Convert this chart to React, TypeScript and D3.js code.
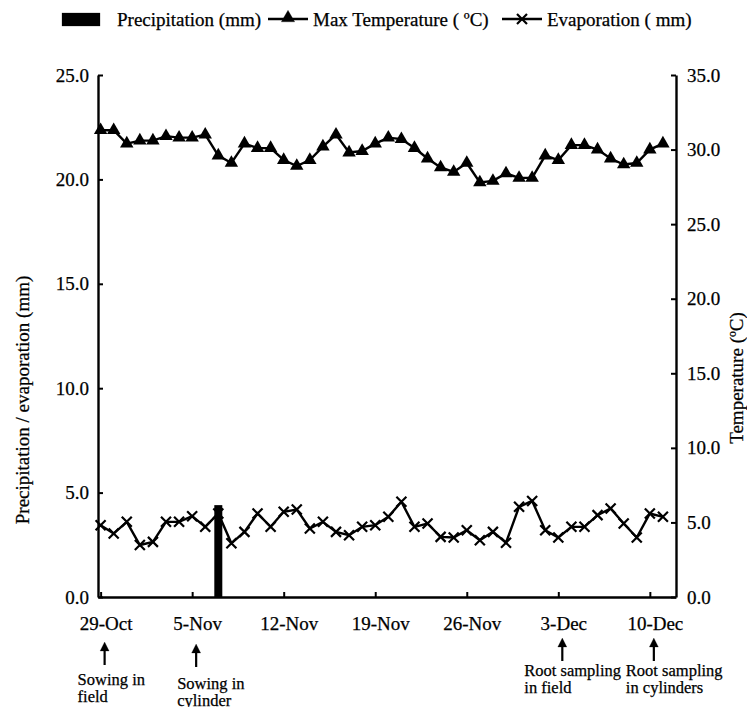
import React, { useEffect, useRef } from 'react';
import * as d3 from 'd3';

// daily categories, 29-Oct .. 11-Dec
const days = [
  '29-Oct', '30-Oct', '31-Oct', '1-Nov', '2-Nov', '3-Nov', '4-Nov', '5-Nov', '6-Nov', '7-Nov', '8-Nov',
  '9-Nov', '10-Nov', '11-Nov', '12-Nov', '13-Nov', '14-Nov', '15-Nov', '16-Nov', '17-Nov', '18-Nov', '19-Nov',
  '20-Nov', '21-Nov', '22-Nov', '23-Nov', '24-Nov', '25-Nov', '26-Nov', '27-Nov', '28-Nov', '29-Nov', '30-Nov',
  '1-Dec', '2-Dec', '3-Dec', '4-Dec', '5-Dec', '6-Dec', '7-Dec', '8-Dec', '9-Dec', '10-Dec', '11-Dec',
];
const tickDays = ['29-Oct', '5-Nov', '12-Nov', '19-Nov', '26-Nov', '3-Dec', '10-Dec'];

const maxTemp = [
  31.3, 31.3, 30.4, 30.6, 30.6, 30.9, 30.8, 30.8, 31.0, 29.6, 29.1,
  30.4, 30.1, 30.1, 29.3, 28.9, 29.3, 30.2, 31.0, 29.8, 29.9, 30.4,
  30.8, 30.7, 30.1, 29.4, 28.8, 28.5, 29.1, 27.8, 27.9, 28.4, 28.1,
  28.1, 29.6, 29.3, 30.3, 30.3, 30.0, 29.4, 29.0, 29.1, 30.0, 30.4,
];
const evaporation = [
  3.44, 3.04, 3.6, 2.49, 2.64, 3.6, 3.6, 3.87, 3.36, 4.0, 2.57,
  3.12, 4.0, 3.36, 4.08, 4.19, 3.28, 3.6, 3.12, 2.96, 3.36, 3.44,
  3.84, 4.56, 3.36, 3.52, 2.88, 2.85, 3.2, 2.72, 3.12, 2.6, 4.32,
  4.6, 3.2, 2.85, 3.36, 3.36, 3.92, 4.24, 3.52, 2.85, 4.0, 3.84,
];
// only one rainy day (7-Nov)
const precipitation = [
  0, 0, 0, 0, 0, 0, 0, 0, 0, 4.4, 0,
  0, 0, 0, 0, 0, 0, 0, 0, 0, 0, 0,
  0, 0, 0, 0, 0, 0, 0, 0, 0, 0, 0,
  0, 0, 0, 0, 0, 0, 0, 0, 0, 0, 0,
];
const leftTicks = [0, 5, 10, 15, 20, 25];
const rightTicks = [0, 5, 10, 15, 20, 25, 30, 35];

const events = [
  { day: '29-Oct', lines: ['Sowing in', 'field'], dx: -27, top: 642, base: 685 },
  { day: '5-Nov', lines: ['Sowing in', 'cylinder'], dx: -19, top: 644, base: 689 },
  { day: '3-Dec', lines: ['Root sampling', 'in field'], dx: -38, top: 638, base: 676 },
  { day: '10-Dec', lines: ['Root sampling', 'in cylinders'], dx: -28, top: 638, base: 676 },
];

const W = 747;
const H = 707;
const font = '"Liberation Serif", "Times New Roman", serif';

const left = 98, right = 676, top = 75, bottom = 597;

export default function App() {
  const axRef = useRef<SVGGElement>(null);

  const idx = days.map((_, i) => i);
  const x = d3.scaleLinear().domain([-0.2, days.length]).range([left, right]);
  const yL = d3.scaleLinear().domain([0, 25]).range([bottom, top]);
  const yR = d3.scaleLinear().domain([0, 35]).range([bottom, top]);
  const xOf = (d: string) => x(days.indexOf(d));

  const tempLine = d3.line<number>().x(i => x(i)).y(i => yR(maxTemp[i]));
  const evapLine = d3.line<number>().x(i => x(i)).y(i => yL(evaporation[i]));
  const tri = d3.symbol().type(d3.symbolTriangle).size(78)();
  const cross = 'M-5,-5L5,5M-5,5L5,-5';

  useEffect(() => {
    const g = d3.select(axRef.current);
    g.selectAll('*').remove();

    const fmt = d3.format('.1f');
    const styleAxis = (sel: any) => {
      sel.selectAll('.domain').attr('stroke', '#000').attr('stroke-width', 2.4);
      sel.selectAll('.tick line').attr('stroke', '#000').attr('stroke-width', 2);
      sel.selectAll('.tick text').attr('fill', '#000').attr('stroke', '#000').attr('stroke-width', 0.25)
        .style('font-family', font).style('font-size', '19px');
    };

    g.append('g')
      .attr('transform', `translate(${left},0)`)
      .call(d3.axisLeft(yL).tickValues(leftTicks).tickFormat(fmt as any).tickSizeInner(-5).tickSizeOuter(0).tickPadding(9))
      .call(styleAxis);

    g.append('g')
      .attr('transform', `translate(${right},0)`)
      .call(d3.axisRight(yR).tickValues(rightTicks).tickFormat(fmt as any).tickSizeInner(-5).tickSizeOuter(0).tickPadding(11))
      .call(styleAxis);

    g.append('g')
      .attr('transform', `translate(0,${bottom})`)
      .call(d3.axisBottom(x).tickValues(tickDays.map(d => days.indexOf(d))).tickFormat((i: any) => days[i]).tickSizeInner(-5).tickSizeOuter(0).tickPadding(20))
      .call(styleAxis)
      .call((s: any) => s.selectAll('.tick text').attr('dx', 5));
  }, []);

  return (
    <svg width={W} height={H} style={{ position: 'absolute', left: 0, top: 0, background: '#fff' }} fontFamily={font}>

      {/* legend */}
      <g fontSize={19} fill="#000" stroke="#000" strokeWidth={0.25}>
        <rect x={62} y={13} width={38} height={13} fill="#000" />
        <text x={117} y={26}>Precipitation (mm)</text>
        <line x1={268} x2={308} y1={19} y2={19} stroke="#000" strokeWidth={2.4} />
        <path d={tri} transform="translate(288,18)" fill="#000" />
        <text x={313} y={26}>Max Temperature ( ºC)</text>
        <line x1={502} x2={542} y1={19} y2={19} stroke="#000" strokeWidth={2.4} />
        <path d={cross} transform="translate(522,19)" stroke="#000" strokeWidth={2.2} fill="none" />
        <text x={547} y={26}>Evaporation ( mm)</text>
      </g>

      {/* precipitation bars */}
      {idx.filter(i => precipitation[i] > 0).map(i => (
        <rect key={i} x={x(i) - 4} y={yL(precipitation[i])} width={8} height={bottom - yL(precipitation[i])} fill="#000" />
      ))}

      {/* evaporation */}
      <path d={evapLine(idx) || ''} fill="none" stroke="#000" strokeWidth={2.4} />
      {idx.map(i => (
        <path key={'e' + i} d={cross} transform={`translate(${x(i)},${yL(evaporation[i])})`} stroke="#000" strokeWidth={2.2} fill="none" />
      ))}

      {/* max temperature */}
      <path d={tempLine(idx) || ''} fill="none" stroke="#000" strokeWidth={2.4} />
      {idx.map(i => (
        <path key={'t' + i} d={tri} transform={`translate(${x(i)},${yR(maxTemp[i])})`} fill="#000" />
      ))}

      <g ref={axRef} />

      {/* axis titles */}
      <g fontSize={19} stroke="#000" strokeWidth={0.25}>
        <text transform="translate(29,400) rotate(-90)" textAnchor="middle">Precipitation / evaporation (mm)</text>
        <text transform="translate(743,378) rotate(-90)" textAnchor="middle">Temperature (ºC)</text>
      </g>

      {/* field events */}
      <g fontSize={16.5} stroke="#000" strokeWidth={0.25}>
        {events.map(ev => {
          const cx = xOf(ev.day) + 4;
          return (
            <g key={ev.day}>
              <line x1={cx} x2={cx} y1={ev.top + 5} y2={ev.top + 23} stroke="#000" strokeWidth={2.2} />
              <path d={`M${cx},${ev.top}L${cx - 4.5},${ev.top + 9}L${cx + 4.5},${ev.top + 9}Z`} fill="#000" />
              <text x={cx + ev.dx} y={ev.base}>{ev.lines[0]}</text>
              <text x={cx + ev.dx} y={ev.base + 17}>{ev.lines[1]}</text>
            </g>
          );
        })}
      </g>
    </svg>
  );
}
